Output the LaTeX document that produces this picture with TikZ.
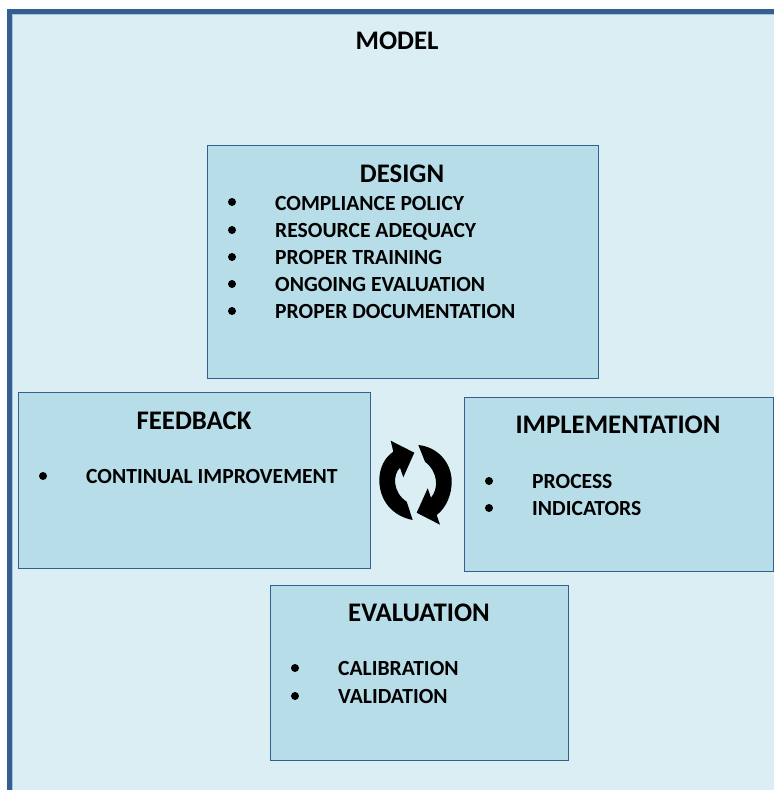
\documentclass[tikz,border=0pt]{standalone}
\usepackage{fontspec}
\setmainfont{Carlito}
\usetikzlibrary{positioning}
\definecolor{pagefill}{HTML}{DAEEF3}
\definecolor{boxfill}{HTML}{B7DDE8}
\definecolor{framecol}{HTML}{365F91}
\definecolor{frameedge}{HTML}{A5C4DC}

\begin{document}
\begin{tikzpicture}[x=1pt, y=-1pt, line join=miter]
	
	\tikzset{
		panel/.style={draw=framecol, fill=boxfill, line width=1pt},
		head/.style={anchor=base, inner sep=0pt, font=\fontsize{26.8}{27}\selectfont\bfseries},
		item/.style={anchor=base west, inner sep=0pt, font=\fontsize{21.6}{22}\selectfont\bfseries},
		dotmark/.style={anchor=center, circle, fill=black, inner sep=0pt, minimum size=8pt}
	}
	
	\useasboundingbox (0,0) rectangle (774,790);
	
	% page and frame
	\fill[pagefill] (12,14) rectangle (774,790);
	\draw[frameedge, line width=1pt] (12.5,790) -- (12.5,14.5) -- (774,14.5);
	\draw[framecol, line width=5pt] (9.5,790) -- (9.5,11.5) -- (774,11.5);
	
	\node[head] (model) at (397,49) {MODEL};
	
	% boxes
	\draw[panel] (207,145) rectangle (598,378);
	\draw[panel] (18,392) rectangle (370,568);
	\draw[panel] (464,397) rectangle (773,571);
	\draw[panel] (270,585) rectangle (568,760);
	
	% design
	\node[head] (design) at (402,182) {DESIGN};
	\node[dotmark] (d1) at (232,202) {};
	\node[dotmark] (d2) at (232,230) {};
	\node[dotmark] (d3) at (232,257) {};
	\node[dotmark] (d4) at (232,284) {};
	\node[dotmark] (d5) at (232,311) {};
	\node[item] (policy) at (275,210) {COMPLIANCE POLICY};
	\node[item] (resource) at (275,237.5) {RESOURCE ADEQUACY};
	\node[item] (training) at (275,264.5) {PROPER TRAINING};
	\node[item] (ongoing) at (275,291.5) {ONGOING EVALUATION};
	\node[item] (docu) at (275,318.5) {PROPER DOCUMENTATION};
	
	% feedback
	\node[head] (feedback) at (194,429.5) {FEEDBACK};
	\node[dotmark] (f1) at (43,476) {};
	\node[item] (continual) at (86,483.5) {CONTINUAL IMPROVEMENT};
	
	% implementation
	\node[head] (impl) at (618,433.5) {IMPLEMENTATION};
	\node[dotmark] (i1) at (489,481) {};
	\node[dotmark] (i2) at (489,508) {};
	\node[item] (process) at (532,488.5) {PROCESS};
	\node[item] (indic) at (532,515.5) {INDICATORS};
	
	% evaluation
	\node[head] (evalu) at (419,621.5) {EVALUATION};
	\node[dotmark] (e1) at (295,668) {};
	\node[dotmark] (e2) at (295,696) {};
	\node[item] (calib) at (338,675.5) {CALIBRATION};
	\node[item] (valid) at (338,703.5) {VALIDATION};
	
	% cycle arrows
	\fill[black] (390.7,440.7) -- (414.3,452.7) -- (403.3,477.3) -- (400,467.7)
		.. controls (393,474) and (392,492) .. (406.7,501.7)
		-- (412.7,520)
		.. controls (392,516) and (379.3,500) .. (379.3,480)
		.. controls (379.3,468) and (385,457) .. (393.3,451.7) -- cycle;
	\fill[black] (440,524.7) -- (416.7,512.7) -- (427.7,488.3) -- (431,497.7)
		.. controls (439,488) and (438,472) .. (425,461.7)
		-- (418.3,445)
		.. controls (438,447) and (451.7,463) .. (451.7,481.7)
		.. controls (451.7,495) and (446,508) .. (436.7,515) -- cycle;
	
\end{tikzpicture}
\end{document}
